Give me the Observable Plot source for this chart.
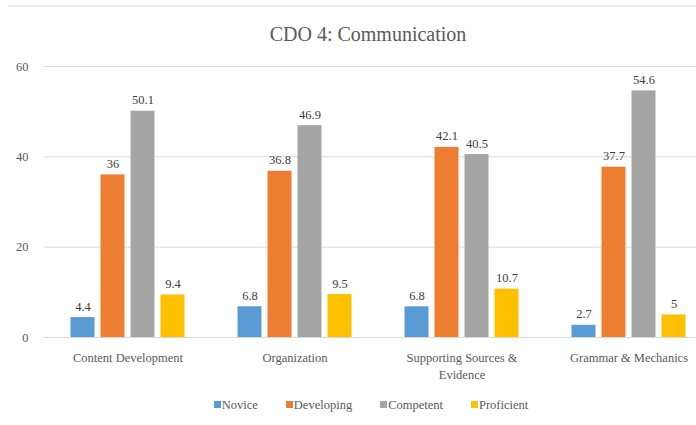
<!DOCTYPE html>
<html>
<head>
<meta charset="utf-8">
<script src="https://cdn.jsdelivr.net/npm/d3@7"></script>
<script src="https://cdn.jsdelivr.net/npm/@observablehq/plot@0.6"></script>
<style>
  html, body { margin: 0; padding: 0; background: #fff; overflow: hidden; }
  #wrap { position: relative; width: 696px; height: 425px; font-family: "Liberation Serif", "DejaVu Serif", "Times New Roman", Times, serif; }
  #topline { position: absolute; left: 8px; right: 0; top: 5px; height: 2px; background: #ececec; }
  #title { position: absolute; left: 0; width: 736px; top: 22px; text-align: center; font-size: 20px; color: #595959; line-height: 24px; }
  #chart { position: absolute; left: 0; top: 0; }
  #legend { position: absolute; left: 0; width: 742px; top: 397px; text-align: center; font-size: 12.5px; color: #595959; line-height: 16px; }
  #legend .item { display: inline-block; margin: 0 14px; }
  #legend .sw { display: inline-block; width: 7px; height: 7px; margin-right: 1px; vertical-align: 1px; }
</style>
</head>
<body>
<div id="wrap">
  <div id="topline"></div>
  <div id="chart"></div>
  <div id="title">CDO 4: Communication</div>
  <div id="legend"></div>
</div>
<script>
const categories = ["Content Development", "Organization", "Supporting Sources & Evidence", "Grammar & Mechanics"];
const series = ["Novice", "Developing", "Competent", "Proficient"];
const novice = [4.4, 6.8, 6.8, 2.7];
const developing = [36, 36.8, 42.1, 37.7];
const competent = [50.1, 46.9, 40.5, 54.6];
const proficient = [9.4, 9.5, 10.7, 5];
const colors = ["#5B9BD5", "#ED7D31", "#A5A5A5", "#FFC000"];
const yTicks = [0, 20, 40, 60];

const seriesValues = [novice, developing, competent, proficient];
const rows = [];
categories.forEach((c, i) => {
  series.forEach((s, j) => {
    rows.push({category: c, series: s, value: seriesValues[j][i]});
  });
});

const wrapLabel = d => d === "Supporting Sources & Evidence" ? "Supporting Sources &\nEvidence" : d;
const serif = "'Liberation Serif', 'DejaVu Serif', 'Times New Roman', Times, serif";

const chart = Plot.plot({
  width: 696,
  height: 425,
  marginTop: 66,
  marginBottom: 88,
  marginLeft: 43.5,
  marginRight: -15.5,
  style: {fontFamily: serif, fontSize: "12.5px", color: "#595959", background: "transparent", overflow: "hidden"},
  fx: {domain: categories, padding: 0, label: null, axis: null},
  x: {domain: series, axis: null, paddingInner: 0.2, paddingOuter: 0.84},
  y: {domain: [0, 60], ticks: yTicks, label: null, tickSize: 0, tickPadding: 16},
  color: {domain: series, range: colors},
  marks: [
    Plot.ruleY(yTicks, {stroke: "#D9D9D9", strokeWidth: 1}),
    Plot.barY(rows, {fx: "category", x: "series", y: "value", fill: "series"}),
    Plot.text(rows, {fx: "category", x: "series", y: "value", text: d => String(d.value), lineAnchor: "bottom", dy: -7, fill: "#404040", fontSize: 12.5, fontFamily: serif}),
    Plot.axisFx({domain: categories, anchor: "bottom", tickSize: 0, tickPadding: 12, label: null, tickFormat: wrapLabel, lineHeight: 1.4, fill: "#595959", fontSize: 12.5, fontFamily: serif})
  ]
});
document.getElementById("chart").appendChild(chart);

const legend = document.getElementById("legend");
series.forEach((s, i) => {
  const item = document.createElement("span");
  item.className = "item";
  const sw = document.createElement("span");
  sw.className = "sw";
  sw.style.background = colors[i];
  item.appendChild(sw);
  item.appendChild(document.createTextNode(s));
  legend.appendChild(item);
});
</script>
</body>
</html>
